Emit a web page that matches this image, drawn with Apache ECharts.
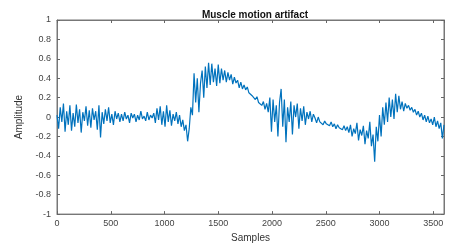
<!DOCTYPE html>
<html>
<head>
<meta charset="utf-8">
<script src="https://cdn.jsdelivr.net/npm/echarts@6/dist/echarts.min.js"></script>
<style>
  html, body { margin: 0; padding: 0; background: #fff; }
  #chart { width: 449px; height: 248px; }
</style>
</head>
<body>
<div id="chart"></div>
<script>
// sample spacing of the traced signal
var sampleStep = 15;
// amplitude, one value every 15 samples
var amplitude = [
  // 0 - 285
  0.02, -0.12, 0.10, -0.05, 0.14, -0.15, 0.06, -0.08, 0.12, -0.14, 0.04, -0.10, 0.13, -0.06, 0.08, -0.16, 0.05, -0.04, 0.11, -0.09,
  // 300 - 585
  0.07, -0.11, 0.09, -0.03, 0.06, -0.13, 0.12, -0.21, 0.05, -0.07, 0.08, -0.04, 0.10, -0.06, 0.03, -0.08, 0.06, -0.02, 0.04, -0.05,
  // 600 - 885
  0.03, -0.04, 0.05, -0.02, 0.02, -0.06, 0.04, -0.01, 0.03, -0.05, 0.02, -0.03, 0.06, -0.02, 0.01, -0.04, 0.05, -0.03, 0.02, -0.01,
  // 900 - 1185
  0.04, -0.06, 0.09, -0.03, 0.11, -0.08, 0.06, -0.10, 0.12, -0.05, 0.07, -0.09, 0.03, -0.04, 0.05, -0.07, 0.02, -0.10, -0.03, -0.14,
  // 1200 - 1485
  -0.08, -0.25, -0.12, 0.10, 0.02, 0.45, 0.15, 0.40, 0.05, 0.35, 0.48, 0.20, 0.52, 0.30, 0.56, 0.33, 0.55, 0.36, 0.50, 0.32,
  // 1500 - 1785
  0.54, 0.35, 0.50, 0.38, 0.48, 0.36, 0.46, 0.38, 0.44, 0.34, 0.41, 0.35, 0.38, 0.30, 0.36, 0.29, 0.33, 0.28, 0.31, 0.25,
  // 1800 - 2085
  0.27, 0.22, 0.24, 0.18, 0.21, 0.15, 0.17, 0.12, 0.16, 0.08, 0.14, 0.05, 0.20, -0.15, 0.18, -0.05, 0.12, -0.20, 0.15, 0.29,
  // 2100 - 2385
  -0.10, 0.18, -0.26, 0.10, -0.05, 0.16, -0.18, 0.12, 0.00, 0.14, -0.12, 0.09, -0.04, 0.11, -0.08, 0.05, -0.02, 0.06, -0.05, 0.03,
  // 2400 - 2685
  -0.01, -0.06, 0.00, -0.05, -0.03, -0.08, -0.04, -0.07, -0.06, -0.09, -0.05, -0.10, -0.07, -0.12, -0.08, -0.11, -0.10, -0.13, -0.09, -0.14,
  // 2700 - 2985
  -0.10, -0.16, -0.08, -0.20, -0.12, -0.17, -0.06, -0.24, -0.13, -0.19, -0.09, -0.28, -0.14, -0.22, -0.05, -0.30, -0.18, -0.46, -0.10, -0.25,
  // 3000 - 3285
  0.02, -0.20, 0.10, -0.08, 0.15, -0.05, 0.20, 0.00, 0.18, -0.02, 0.24, 0.05, 0.22, 0.08, 0.16, 0.06, 0.14, 0.09, 0.12, 0.07,
  // 3300 - 3585
  0.10, 0.05, 0.08, 0.02, 0.06, 0.00, 0.04, -0.03, 0.02, -0.05, 0.01, -0.06, -0.02, -0.08, 0.00, -0.10, -0.04, -0.12, -0.06, -0.22,
  // 3600
  -0.08
];

var xTicks = [0, 500, 1000, 1500, 2000, 2500, 3000, 3500];

var seriesData = amplitude.map(function (v, i) { return [i * sampleStep, v]; });

var chart = echarts.init(document.getElementById('chart'), null, { renderer: 'canvas' });

var labelStyle = { color: '#444', fontSize: 9, fontFamily: 'Liberation Sans, Arial, sans-serif' };
var tickStyle = { show: true, inside: true, length: 3, lineStyle: { color: '#666' } };

var option = {
  animation: false,
  backgroundColor: '#fff',
  title: {
    text: 'Muscle motion artifact',
    left: 250, top: 5,
    textAlign: 'center',
    textStyle: { fontSize: 10, fontWeight: 'bold', color: '#111', fontFamily: 'Liberation Sans, Arial, sans-serif' }
  },
  grid: {
    left: 57, right: 5, top: 20, bottom: 27,
    show: true, borderColor: '#777', borderWidth: 1
  },
  xAxis: [{
    type: 'value', min: 0, max: 3600, interval: 500,
    name: 'Samples', nameLocation: 'middle', nameGap: 15,
    nameTextStyle: { color: '#333', fontSize: 10, fontFamily: 'Liberation Sans, Arial, sans-serif' },
    axisLine: { show: true, onZero: false, lineStyle: { color: '#777' } },
    axisTick: tickStyle,
    axisLabel: Object.assign({ margin: 5, showMaxLabel: false,
      formatter: function (v) { return xTicks.indexOf(v) >= 0 ? String(v) : ''; } }, labelStyle),
    splitLine: { show: false }
  }, {
    type: 'value', position: 'top', min: 0, max: 3600, interval: 500,
    axisLine: { show: true, onZero: false, lineStyle: { color: '#777' } },
    axisTick: tickStyle,
    axisLabel: { show: false },
    splitLine: { show: false }
  }],
  yAxis: [{
    type: 'value', min: -1, max: 1, interval: 0.2,
    name: 'Amplitude', nameLocation: 'middle', nameGap: 30, nameRotate: 90,
    nameTextStyle: { color: '#333', fontSize: 10, fontFamily: 'Liberation Sans, Arial, sans-serif' },
    axisLine: { show: true, onZero: false, lineStyle: { color: '#777' } },
    axisTick: tickStyle,
    axisLabel: Object.assign({ margin: 6,
      formatter: function (v) { return String(Math.round(v * 10) / 10); } }, labelStyle),
    splitLine: { show: false }
  }, {
    type: 'value', position: 'right', min: -1, max: 1, interval: 0.2,
    axisLine: { show: true, onZero: false, lineStyle: { color: '#777' } },
    axisTick: tickStyle,
    axisLabel: { show: false },
    splitLine: { show: false }
  }],
  series: [{
    type: 'line',
    data: seriesData,
    xAxisIndex: 0, yAxisIndex: 0,
    showSymbol: false,
    lineStyle: { color: '#0072BD', width: 1.2 },
    clip: true
  }]
};

chart.setOption(option);
</script>
</body>
</html>
